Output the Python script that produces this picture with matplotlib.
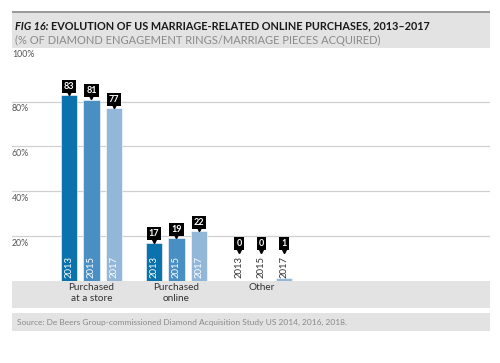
import numpy as np
import matplotlib.pyplot as plt
from matplotlib.patches import Rectangle

# Data
categories = ["Purchased\nat a store", "Purchased\nonline", "Other"]
years = ["2013", "2015", "2017"]
values = {
    "2013": [83, 17, 0],
    "2015": [81, 19, 0],
    "2017": [77, 22, 1],
}
yticks = [20, 40, 60, 80, 100]

colors = {"2013": "#0b72ab", "2015": "#4a8fc4", "2017": "#93b7d9"}
band_gray = "#e3e3e3"

plt.rcParams["font.family"] = ["Lato", "DejaVu Sans"]

W, H = 500, 363
fig = plt.figure(figsize=(W / 100, H / 100), dpi=100)


def fx(px):
    return px / W


def fy(py):
    return 1 - py / H


# Title box
fig.patches.append(Rectangle((fx(12), fy(48)), fx(478), 36 / H, transform=fig.transFigure,
                             facecolor=band_gray, edgecolor="none", zorder=0))
fig.patches.append(Rectangle((fx(12), fy(13)), fx(478), 1.6 / H, transform=fig.transFigure,
                             facecolor="#9a9a9a", edgecolor="none", zorder=1))
t1 = fig.text(fx(15), fy(26), "FIG 16: ", fontsize=7.8, fontweight="bold", fontstyle="italic",
              color="#1a1a1a", va="center")
fig.add_artist(plt.Annotation("EVOLUTION OF US MARRIAGE-RELATED ONLINE PURCHASES, 2013\u20132017",
                              xy=(1, 0.5), xycoords=t1, va="center", ha="left",
                              fontsize=7.8, fontweight="bold", color="#1a1a1a"))
fig.text(fx(15), fy(40), "(% OF DIAMOND ENGAGEMENT RINGS/MARRIAGE PIECES ACQUIRED)",
         fontsize=8.0, color="#8a8a8a", va="center")

# Category band and source band
fig.patches.append(Rectangle((fx(12), fy(308)), fx(478), 27.5 / H, transform=fig.transFigure,
                             facecolor=band_gray, edgecolor="none", zorder=0))
fig.patches.append(Rectangle((fx(12), fy(331)), fx(478), 18 / H, transform=fig.transFigure,
                             facecolor=band_gray, edgecolor="none", zorder=0))
fig.text(fx(17), fy(322), "Source: De Beers Group-commissioned Diamond Acquisition Study US 2014, 2016, 2018.",
         fontsize=6.0, color="#8a8a8a", va="center")

ax = fig.add_axes([fx(12), fy(280.7), fx(478), (280.7 - 57) / H])
ax.set_xlim(-0.935, 4.688)
ax.set_ylim(0, 100)
ax.axis("off")

for t in yticks:
    if t < 100:
        ax.axhline(t, color="#d0d0d0", lw=0.9, zorder=0)
    ax.text(-0.935, t - (1.2 if t < 100 else -1.0), f"{t}%", fontsize=6.3, color="#555555",
            va="top" if t < 100 else "center", ha="left")

x = np.arange(len(categories))
offsets = [-0.265, 0, 0.265]
for yr, off in zip(years, offsets):
    vals = values[yr]
    ax.bar(x + off, vals, width=0.19, color=colors[yr], edgecolor="white", linewidth=0.4, zorder=2)
    for xi, v in zip(x + off, vals):
        small = v < 10
        ax.text(xi, 1.3, yr, rotation=90, ha="center", va="bottom", fontsize=6.8,
                color="#333333" if small else "white", zorder=3)
        ytop = 12.5 if small else v
        ax.plot(xi, ytop + 0.9, marker="v", color="black", markersize=3, zorder=4)
        ax.annotate(str(v), (xi, ytop), xytext=(0, 3.2), textcoords="offset points",
                    ha="center", va="bottom", fontsize=6.5, fontweight="bold", color="white",
                    bbox=dict(boxstyle="square,pad=0.22", facecolor="black", edgecolor="none"),
                    zorder=5)

for xi, cat in zip(x, categories):
    fig.text(fx(12) + (xi + 0.935) / (4.688 + 0.935) * fx(478), fy(283), cat,
             ha="center", va="top", fontsize=7.2, color="#333333", linespacing=1.25)

fig.savefig("out.png", dpi=100)
